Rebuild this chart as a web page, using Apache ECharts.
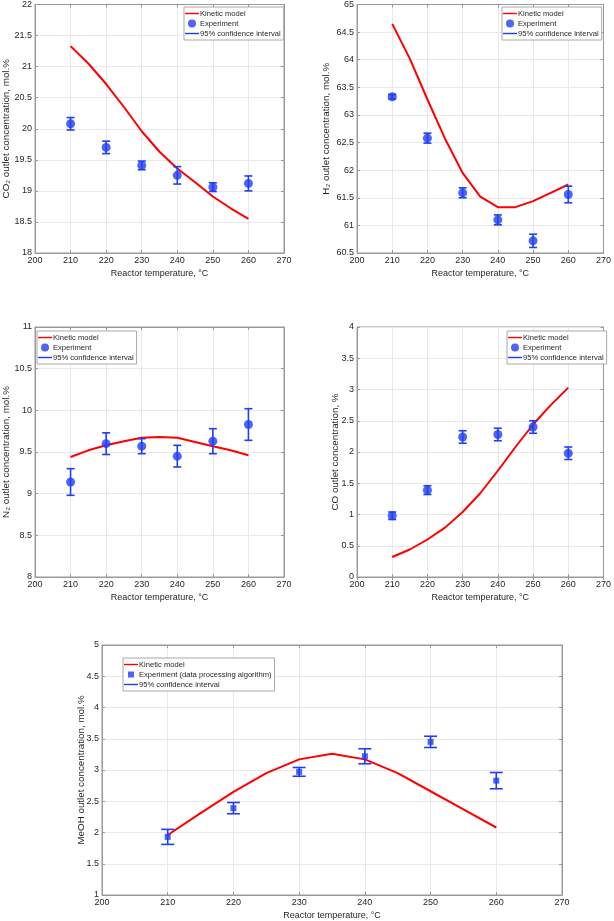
<!DOCTYPE html>
<html><head><meta charset="utf-8">
<script src="https://cdn.jsdelivr.net/npm/echarts@6/dist/echarts.min.js"></script>
<style>html,body{margin:0;padding:0;background:#fff}#c{width:614px;height:921px}</style>
</head><body><div id="c"></div>
<script>
// ---- data ----
const temps = [210, 220, 230, 240, 250, 260];
const modelT = [210, 215, 220, 225, 230, 235, 240, 245, 250, 255, 260];
const xTicks = [200, 210, 220, 230, 240, 250, 260, 270];

const co2Model = [21.33, 21.05, 20.72, 20.35, 19.96, 19.63, 19.36, 19.14, 18.91, 18.72, 18.55];
const co2Exp = [20.08, 19.70, 19.41, 19.25, 19.06, 19.12];
const co2Err = [0.10, 0.10, 0.07, 0.14, 0.07, 0.12];

const h2Model = [64.65, 64.02, 63.28, 62.57, 61.95, 61.52, 61.33, 61.33, 61.44, 61.59, 61.74];
const h2Exp = [63.33, 62.58, 61.59, 61.10, 60.72, 61.56];
const h2Err = [0.04, 0.09, 0.09, 0.09, 0.12, 0.15];

const n2Model = [9.44, 9.52, 9.58, 9.63, 9.67, 9.68, 9.67, 9.62, 9.57, 9.52, 9.46];
const n2Exp = [9.14, 9.60, 9.57, 9.45, 9.63, 9.83];
const n2Err = [0.16, 0.13, 0.09, 0.13, 0.15, 0.19];

const coModel = [0.32, 0.44, 0.60, 0.79, 1.04, 1.34, 1.70, 2.08, 2.44, 2.75, 3.03];
const coExp = [0.98, 1.39, 2.24, 2.28, 2.40, 1.98];
const coErr = [0.06, 0.07, 0.10, 0.10, 0.10, 0.10];

const meohModel = [1.96, 2.31, 2.65, 2.95, 3.17, 3.26, 3.17, 2.95, 2.66, 2.37, 2.08];
const meohExp = [1.93, 2.39, 2.97, 3.22, 3.45, 2.83];
const meohErr = [0.12, 0.09, 0.07, 0.12, 0.09, 0.13];

// ---- styling ----
const RED = '#ff0000', BLUE = '#1f3ef5';
const FONT = "'Liberation Sans', Arial, sans-serif";
const TXT = '#262626', AX = '#9a9a9a', GRIDC = '#e9e9e9';
const LINE_ICON = 'path://M0 0H30V3H0Z';
const SQUARE_ICON = 'path://M0 0H10V10H0Z';

const panels = [
  {grid:{left:34, top:4, width:250, height:249}, y:[18,22], yName:'CO\u2082 outlet concentration, mol.%', yGap:24,
   model:co2Model, exp:co2Exp, err:co2Err, leg:{left:184, top:7}, expName:'Experiment', sym:'circle', cap:4},
  {grid:{left:357, top:4, width:250, height:249}, y:[60.5,65], yName:'H\u2082 outlet concentration, mol.%', yGap:26,
   model:h2Model, exp:h2Exp, err:h2Err, leg:{left:502, top:7}, expName:'Experiment', sym:'circle', cap:4},
  {grid:{left:34, top:327, width:250, height:250}, y:[8,11], yName:'N\u2082 outlet concentration, mol.%', yGap:24,
   model:n2Model, exp:n2Exp, err:n2Err, leg:{left:37, top:331}, expName:'Experiment', sym:'circle', cap:4},
  {grid:{left:357, top:327, width:250, height:250}, y:[0,4], yName:'CO outlet concentration, %', yGap:17,
   model:coModel, exp:coExp, err:coErr, leg:{left:507, top:331}, expName:'Experiment', sym:'circle', cap:4},
  {grid:{left:102, top:645, width:460, height:251}, y:[1,5], yName:'MeOH outlet concentration, mol.%', yGap:16,
   model:meohModel, exp:meohExp, err:meohErr, leg:{left:123, top:658}, expName:'Experiment (data processing algorithm)', sym:'rect', cap:6.5}
];

const grids = [], xAxes = [], yAxes = [], series = [], legends = [];
panels.forEach((p, i) => {
  grids.push(Object.assign({show:true, borderColor:AX, borderWidth:1, backgroundColor:'#fff'}, p.grid));
  const base = {min:200, max:270, interval:10, gridIndex:i};
  xAxes.push(Object.assign({}, base, {
    type:'value', position:'bottom',
    name:'Reactor temperature, \u00b0C', nameLocation:'middle', nameGap:16, nameMoveOverlap:false,
    nameTextStyle:{fontFamily:FONT, fontSize:9, color:TXT},
    axisLine:{show:true, lineStyle:{color:AX}},
    axisTick:{show:true, inside:true, length:3, lineStyle:{color:AX}},
    axisLabel:{fontFamily:FONT, fontSize:9, color:TXT, margin:3,
      formatter: v => xTicks.indexOf(v) >= 0 ? String(v) : ''},
    splitLine:{show:true, lineStyle:{color:GRIDC, width:1}}
  }));
  xAxes.push(Object.assign({}, base, {
    type:'value', position:'top',
    axisLine:{show:true, lineStyle:{color:AX}},
    axisTick:{show:true, inside:true, length:3, lineStyle:{color:AX}},
    axisLabel:{show:false}, splitLine:{show:false}
  }));
  const ybase = {min:p.y[0], max:p.y[1], interval:0.5, gridIndex:i, type:'value'};
  yAxes.push(Object.assign({}, ybase, {
    position:'left',
    name:p.yName, nameLocation:'middle', nameGap:p.yGap, nameRotate:90, nameMoveOverlap:false,
    nameTextStyle:{fontFamily:FONT, fontSize:9.8, color:TXT},
    axisLine:{show:true, lineStyle:{color:AX}},
    axisTick:{show:true, inside:true, length:3, lineStyle:{color:AX}},
    axisLabel:{fontFamily:FONT, fontSize:9, color:TXT, margin:3},
    splitLine:{show:true, lineStyle:{color:GRIDC, width:1}}
  }));
  yAxes.push(Object.assign({}, ybase, {
    position:'right',
    axisLine:{show:true, lineStyle:{color:AX}},
    axisTick:{show:true, inside:true, length:3, lineStyle:{color:AX}},
    axisLabel:{show:false}, splitLine:{show:false}
  }));

  const xi = 2*i, yi = 2*i;
  series.push({
    name:'Kinetic model', type:'line', xAxisIndex:xi, yAxisIndex:yi,
    data: modelT.map((t, k) => [t, p.model[k]]),
    showSymbol:false, symbol:'none', smooth:false,
    lineStyle:{color:RED, width:2}, itemStyle:{color:RED}, z:3, silent:true
  });
  const cap = p.cap;
  series.push({
    name:'95% confidence interval', type:'custom', xAxisIndex:xi, yAxisIndex:yi,
    data: temps.map((t, k) => [t, p.exp[k] - p.err[k], p.exp[k] + p.err[k]]),
    itemStyle:{color:BLUE}, z:4, silent:true,
    renderItem: function(params, api){
      const x = api.value(0);
      const lo = api.coord([x, api.value(1)]);
      const hi = api.coord([x, api.value(2)]);
      const st = {stroke:BLUE, lineWidth:1.6};
      return {type:'group', children:[
        {type:'line', shape:{x1:lo[0], y1:lo[1], x2:hi[0], y2:hi[1]}, style:st},
        {type:'line', shape:{x1:lo[0]-cap, y1:lo[1], x2:lo[0]+cap, y2:lo[1]}, style:st},
        {type:'line', shape:{x1:hi[0]-cap, y1:hi[1], x2:hi[0]+cap, y2:hi[1]}, style:st}
      ]};
    }
  });
  series.push({
    name:p.expName, type:'scatter', xAxisIndex:xi, yAxisIndex:yi,
    data: temps.map((t, k) => [t, p.exp[k]]),
    symbol:p.sym, symbolSize: p.sym === 'rect' ? 6 : 9,
    itemStyle:{color:BLUE}, z:5, silent:true
  });
  legends.push({
    left:p.leg.left, top:p.leg.top, orient:'vertical', selectedMode:false,
    backgroundColor:'#fff', borderColor:'#a8a8a8', borderWidth:1, borderRadius:0,
    padding:[2, 3, 2, 1], itemGap:1, itemWidth:14, itemHeight: p.sym === 'rect' ? 6 : 8,
    textStyle:{fontFamily:FONT, fontSize:7.6, color:TXT, lineHeight:9, padding:[0,0,0,-4]},
    data:[
      {name:'Kinetic model', icon:LINE_ICON},
      {name:p.expName, icon: p.sym === 'rect' ? SQUARE_ICON : 'circle'},
      {name:'95% confidence interval', icon:LINE_ICON}
    ]
  });
});

const chart = echarts.init(document.getElementById('c'), null, {renderer:'canvas'});
chart.setOption({
  animation:false,
  textStyle:{fontFamily:FONT},
  grid:grids, xAxis:xAxes, yAxis:yAxes, series:series, legend:legends
});
</script>
</body></html>
